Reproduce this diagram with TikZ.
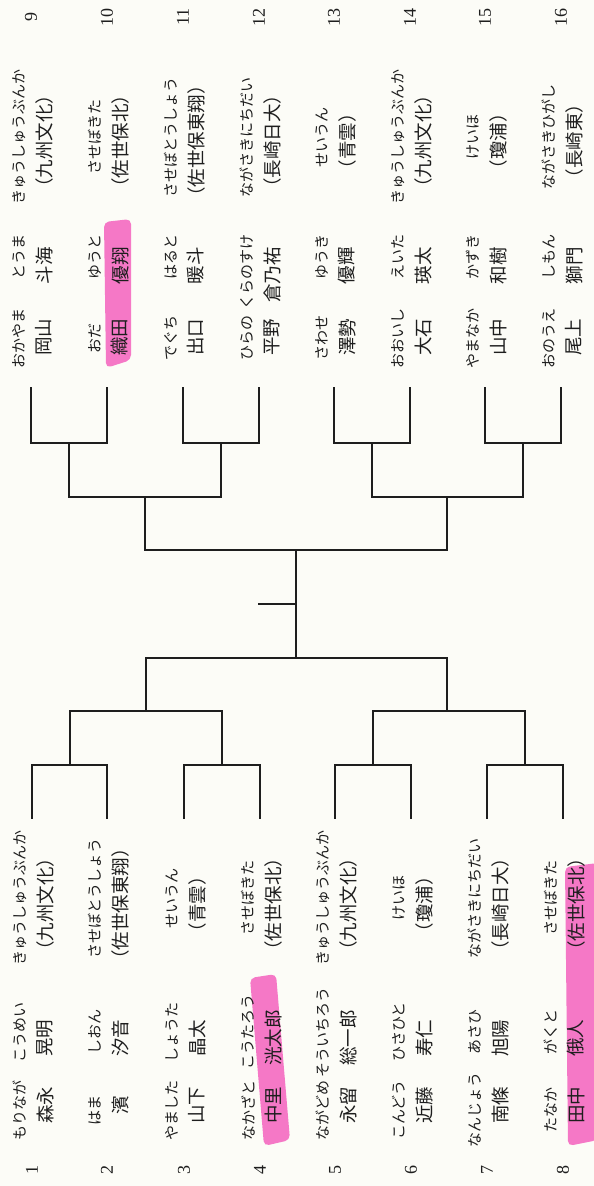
\documentclass[tikz,border=0pt]{standalone}
\usepackage{fontspec}
\newfontfamily\jp{Noto Sans CJK JP}
\newfontfamily\numf{Liberation Serif}
\definecolor{ink}{RGB}{30,30,30}
\definecolor{paper}{RGB}{252,252,247}
\definecolor{hlpink}{RGB}{245,120,198}
\tikzset{
  kana/.style={rotate=90, inner sep=0pt, text=ink, font=\jp\fontsize{15bp}{16bp}\selectfont},
  kanji/.style={rotate=90, inner sep=0pt, text=ink, font=\jp\fontsize{18.5bp}{19bp}\selectfont},
  numlabel/.style={rotate=90, inner sep=0pt, text=ink, font=\numf\fontsize{18bp}{19bp}\selectfont},
  br/.style={draw=ink, line width=2.3bp, line cap=rect},
  hl/.style={fill=hlpink, rounded corners=5bp}
}
% top entries: id, leaf x, kana family, kana given, kanji family, kanji given, school kana, school kanji
\newcommand\topentry[8]{%
  \node[kana] (k#1f) at (#2-12,338) {#3};
  \node[kana,anchor=east] (k#1g) at (#2-12,234) {#4};
  \node[kanji] (j#1f) at (#2+13,337) {#5};
  \node[kanji,anchor=east] (j#1g) at (#2+13,247) {#6};
  \node[kana] (s#1k) at (#2-12,137) {#7};
  \node[kanji] (s#1j) at (#2+13,141) {#8};
  \node[numlabel] (n#1) at (#2,17) {#1};
  \coordinate (L#1) at (#2,388);
}
\newcommand\botentry[8]{%
  \node[kana] (k#1f) at (#2-12,1110) {#3};
  \node[kana] (k#1g) at (#2-12,1032) {#4};
  \node[kanji] (j#1f) at (#2+13,1105) {#5};
  \node[kanji] (j#1g) at (#2+13,1038) {#6};
  \node[kana] (s#1k) at (#2-12,898) {#7};
  \node[kanji] (s#1j) at (#2+13,904) {#8};
  \node[numlabel] (n#1) at (#2,1170) {#1};
  \coordinate (M#1) at (#2,818);
}
\begin{document}
\begin{tikzpicture}[x=1bp,y=-1bp]
\fill[paper] (0,0) rectangle (594,1186);
\useasboundingbox (0,0) rectangle (594,1186);

% highlighter strokes
\fill[hl] (104,222) -- (131,219) -- (131,360) -- (106,368) -- cycle;
\fill[hl] (250,978) -- (276,974) -- (290,1140) -- (264,1146) -- cycle;
\fill[hl] (565,867) -- (598,863) -- (598,1140) -- (568,1146) -- cycle;

% entries 9-16 (top)
\topentry{9}{31}{おかやま}{とうま}{岡山}{斗海}{きゅうしゅうぶんか}{（九州文化）}
\topentry{10}{107}{おだ}{ゆうと}{織田}{優翔}{させぼきた}{（佐世保北）}
\topentry{11}{183}{でぐち}{はると}{出口}{暖斗}{させぼとうしょう}{（佐世保東翔）}
\topentry{12}{259}{ひらの}{くらのすけ}{平野}{倉乃祐}{ながさきにちだい}{（長崎日大）}
\topentry{13}{334}{さわせ}{ゆうき}{澤勢}{優輝}{せいうん}{（青雲）}
\topentry{14}{410}{おおいし}{えいた}{大石}{瑛太}{きゅうしゅうぶんか}{（九州文化）}
\topentry{15}{485}{やまなか}{かずき}{山中}{和樹}{けいほ}{（瓊浦）}
\topentry{16}{561}{おのうえ}{しもん}{尾上}{獅門}{ながさきひがし}{（長崎東）}

% entries 1-8 (bottom)
\botentry{1}{32}{もりなが}{こうめい}{森永}{晃明}{きゅうしゅうぶんか}{（九州文化）}
\botentry{2}{107}{はま}{しおん}{濱}{汐音}{させぼとうしょう}{（佐世保東翔）}
\botentry{3}{184}{やました}{しょうた}{山下}{晶太}{せいうん}{（青雲）}
\botentry{4}{260}{なかざと}{こうたろう}{中里}{洸太郎}{させぼきた}{（佐世保北）}
\botentry{5}{335}{ながどめ}{そういちろう}{永留}{総一郎}{きゅうしゅうぶんか}{（九州文化）}
\botentry{6}{411}{こんどう}{ひさひと}{近藤}{寿仁}{けいほ}{（瓊浦）}
\botentry{7}{487}{なんじょう}{あさひ}{南條}{旭陽}{ながさきにちだい}{（長崎日大）}
\botentry{8}{563}{たなか}{がくと}{田中}{俄人}{させぼきた}{（佐世保北）}

% junction coordinates
\coordinate (A1) at (69,443);  \coordinate (A2) at (221,443);
\coordinate (A3) at (372,443); \coordinate (A4) at (523,443);
\coordinate (B1) at (145,497); \coordinate (B2) at (447,497);
\coordinate (C)  at (296,550);
\coordinate (E1) at (70,765);  \coordinate (E2) at (222,765);
\coordinate (E3) at (373,765); \coordinate (E4) at (525,765);
\coordinate (F1) at (146,711); \coordinate (F2) at (447,711);
\coordinate (D)  at (296,658);
\coordinate (T)  at (259,604); \coordinate (Tc) at (296,604);

% top bracket
\draw[br] (L9) |- (A1) -| (L10);
\draw[br] (L11) |- (A2) -| (L12);
\draw[br] (L13) |- (A3) -| (L14);
\draw[br] (L15) |- (A4) -| (L16);
\draw[br] (A1) |- (B1) -| (A2);
\draw[br] (A3) |- (B2) -| (A4);
\draw[br] (B1) |- (C) -| (B2);
% bottom bracket
\draw[br] (M1) |- (E1) -| (M2);
\draw[br] (M3) |- (E2) -| (M4);
\draw[br] (M5) |- (E3) -| (M6);
\draw[br] (M7) |- (E4) -| (M8);
\draw[br] (E1) |- (F1) -| (E2);
\draw[br] (E3) |- (F2) -| (E4);
\draw[br] (F1) |- (D) -| (F2);
% final
\draw[br] (C) -- (D);
\draw[br] (T) -- (Tc);
\end{tikzpicture}
\end{document}
